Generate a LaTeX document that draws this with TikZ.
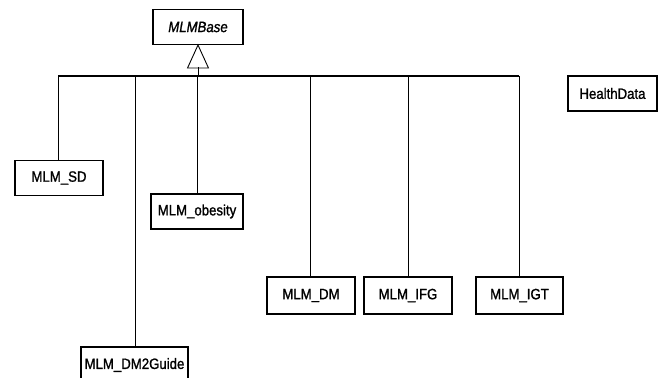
\documentclass[tikz,border=0pt]{standalone}
\usepackage{fontspec}
\setmainfont{Liberation Sans}[FakeStretch=0.88, FakeBold=1.2]
\begin{document}
\begin{tikzpicture}[x=1pt,y=-1pt,
  cls/.style={draw=black, line width=1.1pt, fill=white, inner sep=0pt,
    minimum height=35pt, font=\fontsize{15}{17}\selectfont},
  link/.style={draw=black, line width=0.9pt}]
\useasboundingbox (0,0) rectangle (660,377);
\node[cls, minimum width=90pt, font=\fontsize{15}{17}\selectfont\itshape] (base) at (198,27) {MLMBase};
\node[cls, minimum width=88pt] (sd) at (59,178) {MLM\_SD};
\node[cls, minimum width=92pt] (ob) at (197,211.5) {MLM\_obesity};
\node[cls, minimum width=107pt, minimum height=36pt] (g) at (134.5,365) {MLM\_DM2Guide};
\node[cls, minimum width=88pt, minimum height=37pt] (dm) at (311,295.5) {MLM\_DM};
\node[cls, minimum width=88pt, minimum height=37pt] (ifg) at (408,295.5) {MLM\_IFG};
\node[cls, minimum width=87pt, minimum height=37pt] (igt) at (519.5,295.5) {MLM\_IGT};
\node[cls, minimum width=89pt] (hd) at (612.5,93.5) {HealthData};
\coordinate (busL) at (58,76);
\coordinate (busR) at (519,76);
\coordinate (triB) at (198,67);
\draw[link, line width=1.2pt] (busL) -- (busR);
\draw[link] (base.south) -- ++(-10.5,23) -- ++(21,0) -- cycle;
\draw[link] (triB) -- (triB |- busL);
\draw[link] (busL) -- (busL |- sd.north);
\draw[link] (135,76) -- (135,0 |- g.north);
\draw[link] (ob.north |- busL) -- (ob.north);
\draw[link] (310,76) -- (310,0 |- dm.north);
\draw[link] (ifg.north |- busL) -- (ifg.north);
\draw[link] (busR) -- (busR |- igt.north);
\end{tikzpicture}
\end{document}
